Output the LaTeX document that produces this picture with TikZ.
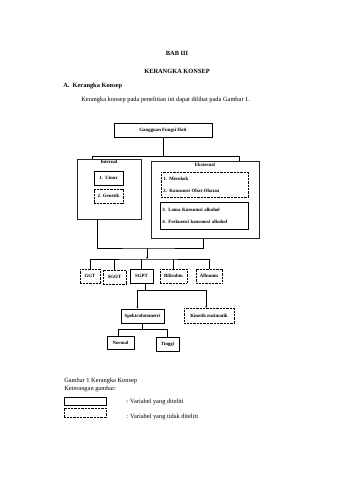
\documentclass[tikz,border=0pt]{standalone}
\usepackage{fontspec}
\setmainfont{Liberation Serif}
\usetikzlibrary{positioning,arrows.meta}

\tikzset{
  solidbox/.style={draw, line width=1pt, inner sep=1pt,
    font=\fontsize{8.5}{10}\selectfont\bfseries},
  dashbox/.style={solidbox, line width=0.7pt, dash pattern=on 1.5pt off 1pt},
  frame/.style={draw, line width=1.1pt, black!85},
  lbl/.style={inner sep=0pt, font=\fontsize{8.5}{10}\selectfont\bfseries},
  txt/.style={inner sep=0pt, anchor=west, font=\fontsize{11.2}{13}\selectfont},
  arr/.style={-{Stealth[length=3.5pt,width=3pt]}},
}

\begin{document}
\begin{tikzpicture}[x=1.755pt,y=-1.755pt,line width=1pt]
  \useasboundingbox (0,0) rectangle (339,480);

  % heading
  \node[txt, anchor=center, font=\fontsize{11.2}{13}\selectfont\bfseries] (bab) at (177,53) {BAB III};
  \node[txt, anchor=center, font=\fontsize{11.2}{13}\selectfont\bfseries] (judul) at (177,71) {KERANGKA KONSEP};
  \node[txt, font=\fontsize{11.2}{13}\selectfont\bfseries] (sub) at (63,86) {A.\ \ Kerangka Konsep};
  \node[txt] (intro) at (81,100) {Kerangka konsep pada penelitian ini dapat dilihat pada Gambar 1.};

  % top
  \node[solidbox, minimum width=172pt, minimum height=24.6pt] (gfh) at (163,130) {Gangguan Fungsi Hati};

  % internal
  \node[frame, minimum width=112.3pt, minimum height=105.3pt] (internal) at (109,189) {};
  \node[lbl, below=2pt of internal.north] (intlbl) {Internal};
  \node[solidbox, minimum width=50.9pt, minimum height=24.6pt] (umur) at (108.5,178) {1.\ \ Umur};
  \node[dashbox, minimum width=50.9pt, minimum height=24.6pt] (genetik) at (108.5,196) {2. Genetik};

  % eksternal
  \node[frame, minimum width=189.5pt, minimum height=135.1pt] (eksternal) at (205,199.5) {};
  \node[lbl, below=3pt of eksternal.north] (ekslbl) {Eksternal};
  \node[dashbox, inner xsep=4pt, text width=144.7pt, minimum height=43.9pt, align=left,
    font=\fontsize{8.5}{21}\selectfont\bfseries] (merokok) at (204.5,184.5)
    {1. Merokok\\2. Konsumsi Obat-Obatan};
  \node[solidbox, inner xsep=4pt, text width=146.4pt, minimum height=47.4pt, align=left,
    font=\fontsize{8.5}{21}\selectfont\bfseries] (alkohol) at (204,215.5)
    {3. Lama Konsumsi alkohol\\4. Frekuensi konsumsi alkohol};

  % connectors top
  \draw (gfh.south) -- ++(0,19) coordinate (b1);
  \draw ([xshift=-29.8pt]internal.north) |- (b1) -| ([xshift=59.7pt]eksternal.north);
  \coordinate (b2) at (147,248);
  \draw ([xshift=-21pt]internal.south) |- (b2) -| ([xshift=-3.5pt]eksternal.south);

  % parameters
  \node[dashbox, minimum width=35.1pt, minimum height=24.6pt] (ggt) at (90,276) {GGT};
  \node[dashbox, minimum width=40.4pt, minimum height=24.6pt] (sgot) at (114.5,277) {SGOT};
  \node[solidbox, minimum width=40.4pt, minimum height=24.6pt] (sgpt) at (141.5,276) {SGPT};
  \node[dashbox, minimum width=47.4pt, minimum height=24.6pt] (bilirubin) at (173.5,276) {Bilirubin};
  \node[dashbox, minimum width=45.6pt, minimum height=24.6pt] (albumin) at (209,276) {Albumin};

  \coordinate (b3) at (147,259);
  \draw[arr] (b2) -- (b3);
  \draw (ggt.north) |- (b3) -| (albumin.north);
  \foreach \n in {sgot,sgpt,bilirubin}
    \draw (\n.north) -- (\n.north |- b3);

  % methods
  \node[solidbox, minimum width=75.5pt, minimum height=24.6pt] (spektro) at (142.5,316) {Spektrofotometri};
  \node[dashbox, minimum width=87.8pt, minimum height=26.3pt] (kinetik) at (209,315.5) {Kinetik enzimatik};
  \draw ([xshift=7pt]sgpt.south) -- ++(0,7) coordinate (b4);
  \draw[arr] (b4) -| ([xshift=-9pt]spektro.north);
  \draw[arr] (b4) -| ([xshift=-5pt]kinetik.north);

  % result
  \node[solidbox, minimum width=47.4pt, minimum height=22.8pt] (normal) at (120.5,342.5) {Normal};
  \node[solidbox, minimum width=40.4pt, minimum height=24.6pt] (tinggi) at (167.5,344) {Tinggi};
  \draw (spektro.south) -- ++(0,6) coordinate (b5);
  \draw (b5) -| ([xshift=-4pt]normal.north);
  \draw (b5) -| (tinggi.north);

  % legend
  \node[txt] (cap) at (64,381) {Gambar 1 Kerangka Konsep};
  \node[txt] (ket) at (64,389) {Keterangan gambar:};
  \node[draw, line width=1.3pt, minimum width=73.7pt, minimum height=14pt, inner sep=0pt] (lsolid) at (85,401) {};
  \node[draw, line width=0.7pt, dash pattern=on 1.5pt off 1pt, minimum width=73.7pt, minimum height=15.8pt, inner sep=0pt] (ldash) at (85,412.5) {};
  \node[txt] (lsoltxt) at (126,402) {: Variabel yang diteliti};
  \node[txt] (ldashtxt) at (126,417) {: Variabel yang tidak diteliti};
\end{tikzpicture}
\end{document}
